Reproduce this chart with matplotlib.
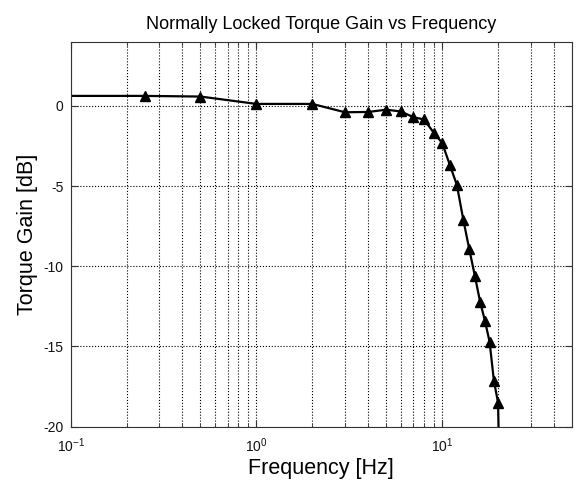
import matplotlib
matplotlib.use("Agg")
import matplotlib.pyplot as plt
from matplotlib.ticker import LogLocator, NullFormatter

plt.rcParams['font.family'] = ['Liberation Sans', 'DejaVu Sans']
plt.rcParams['mathtext.default'] = 'regular'
plt.rcParams['axes.unicode_minus'] = False

# measured points (Hz, dB); first and last points carry no marker
freq = [0.1, 0.25, 0.5, 1, 2, 3, 4, 5, 6, 7, 8, 9, 10, 11, 12,
        13, 14, 15, 16, 17, 18, 19, 20, 20.5]
gain = [0.62, 0.62, 0.58, 0.12, 0.12, -0.4, -0.38, -0.24, -0.35, -0.71, -0.85,
        -1.67, -2.31, -3.68, -4.93, -7.1, -8.94, -10.6, -12.2, -13.4,
        -14.7, -17.15, -18.5, -25.0]

yticks = [-20, -15, -10, -5, 0]

fig = plt.figure(figsize=(5.76, 4.83), dpi=100)
ax = fig.add_axes([0.1227, 0.1166, 0.8703, 0.7971])

ax.semilogx(freq, gain, color='black', lw=1.6, marker='^', ms=7,
            markevery=list(range(1, len(freq) - 1)))

ax.set_xlim(0.1, 50)
ax.set_ylim(-20, 4)
ax.set_yticks(yticks)
ax.xaxis.set_major_locator(LogLocator(base=10))
ax.xaxis.set_minor_locator(LogLocator(base=10, subs=range(2, 10)))
ax.xaxis.set_minor_formatter(NullFormatter())

ax.grid(True, which='major', ls=':', color='black', lw=0.8)
ax.grid(True, which='minor', axis='x', ls=':', color='black', lw=0.8)
ax.tick_params(which='both', direction='in', top=True, right=True,
               labelsize=10, colors='#333333', labelcolor='#111111')
ax.tick_params(which='major', length=5)
ax.tick_params(which='minor', length=3)
ax.tick_params(axis='x', which='major', pad=7)
ax.tick_params(axis='y', which='major', pad=5)
for s in ax.spines.values():
    s.set_color('#333333')

ax.set_title('Normally Locked Torque Gain vs Frequency', fontsize=13, pad=9)
ax.set_xlabel('Frequency [Hz]', fontsize=15.5, labelpad=2)
ax.set_ylabel('Torque Gain [dB]', fontsize=15.5, labelpad=4)

fig.savefig('out.png', dpi=100)
